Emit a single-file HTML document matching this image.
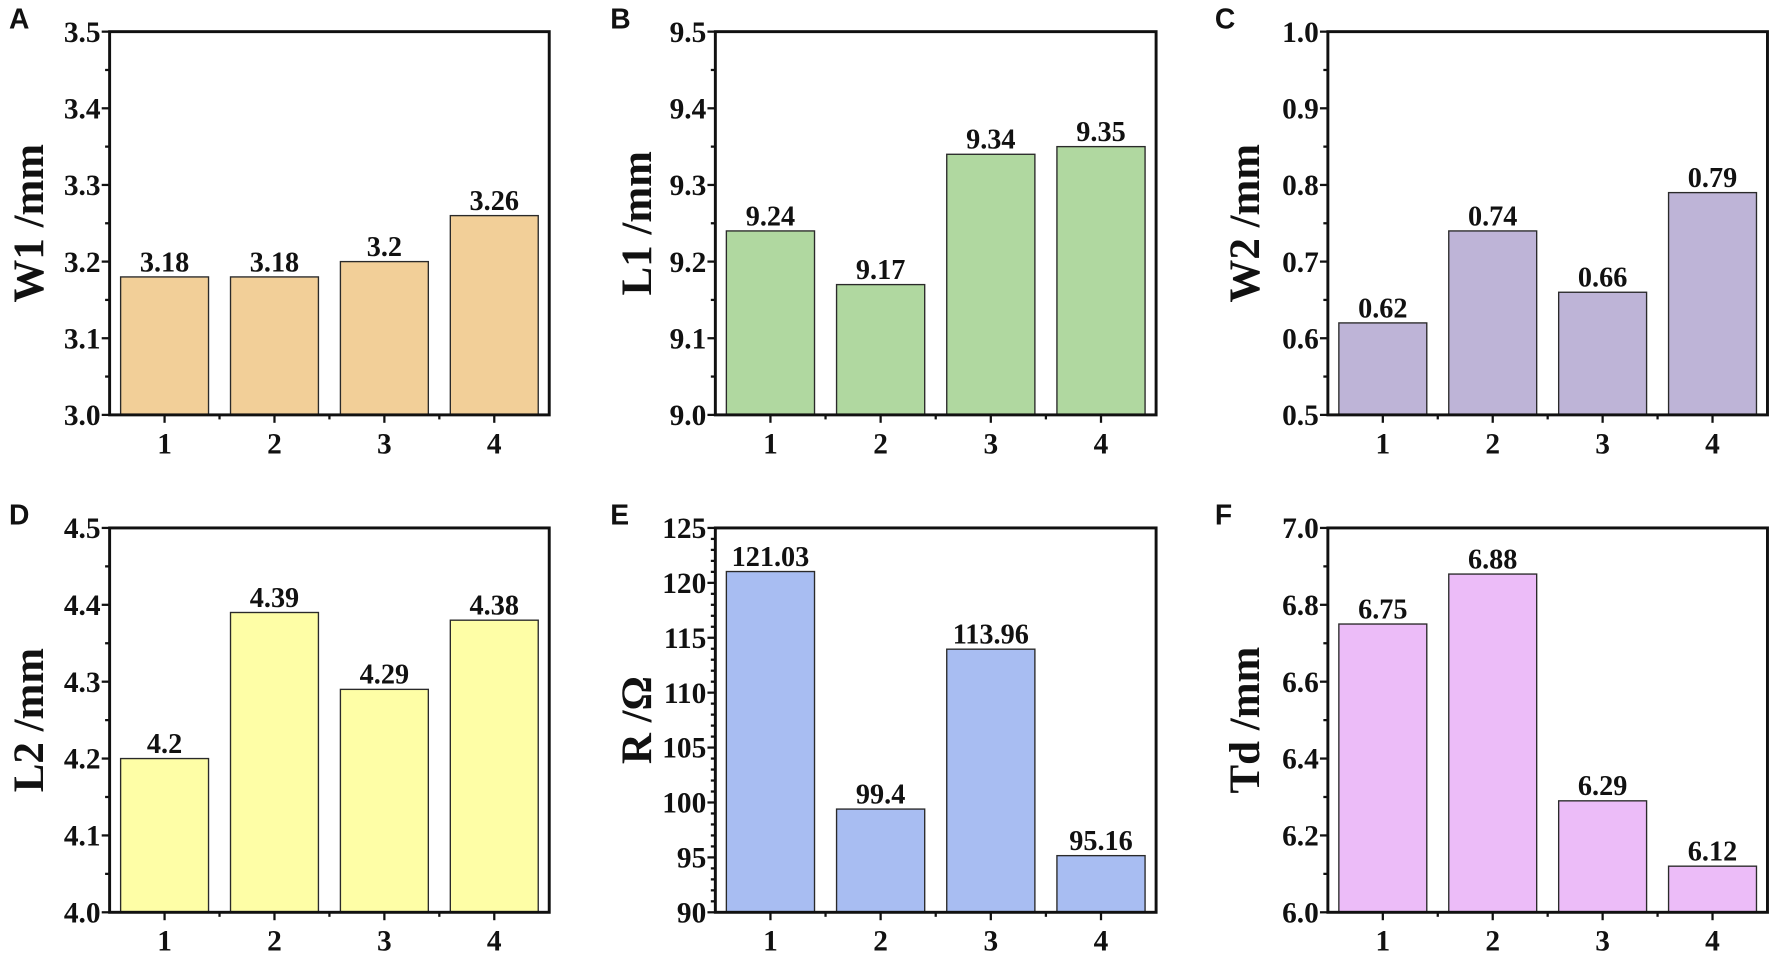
<!DOCTYPE html>
<html><head><meta charset="utf-8">
<style>
html,body{margin:0;padding:0;background:#fff;}
svg{display:block;}
.tk{font-family:"Liberation Serif",serif;font-weight:bold;font-size:26px;fill:#111;}
.vl{font-family:"Liberation Serif",serif;font-weight:bold;font-size:25px;fill:#111;}
.yt{font-family:"Liberation Serif",serif;font-weight:bold;font-size:38px;fill:#111;}
.pl{font-family:"Liberation Sans",sans-serif;font-weight:bold;font-size:25px;fill:#111;}
</style></head>
<body>
<svg id="fig" width="1772" height="953" viewBox="0 0 1568 843" preserveAspectRatio="none" xmlns="http://www.w3.org/2000/svg"></svg>
<script>
const categories = ["1","2","3","4"];
const seriesA = [3.18, 3.18, 3.2, 3.26];
const seriesB = [9.24, 9.17, 9.34, 9.35];
const seriesC = [0.62, 0.74, 0.66, 0.79];
const seriesD = [4.2, 4.39, 4.29, 4.38];
const seriesE = [121.03, 99.4, 113.96, 95.16];
const seriesF = [6.75, 6.88, 6.29, 6.12];
const labelsA = ["3.18","3.18","3.2","3.26"];
const labelsB = ["9.24","9.17","9.34","9.35"];
const labelsC = ["0.62","0.74","0.66","0.79"];
const labelsD = ["4.2","4.39","4.29","4.38"];
const labelsE = ["121.03","99.4","113.96","95.16"];
const labelsF = ["6.75","6.88","6.29","6.12"];
const ticksA = ["3.0","3.1","3.2","3.3","3.4","3.5"];
const ticksB = ["9.0","9.1","9.2","9.3","9.4","9.5"];
const ticksC = ["0.5","0.6","0.7","0.8","0.9","1.0"];
const ticksD = ["4.0","4.1","4.2","4.3","4.4","4.5"];
const ticksE = ["90","95","100","105","110","115","120","125"];
const ticksF = ["6.0","6.2","6.4","6.6","6.8","7.0"];

const NS="http://www.w3.org/2000/svg";
const svg=document.getElementById('fig');
function mk(tag,attrs,parent){const e=document.createElementNS(NS,tag);for(const k in attrs)e.setAttribute(k,attrs[k]);(parent||svg).appendChild(e);return e;}

function panel(cfg){
  const g=mk('g',{});
  
  
  const L=cfg.x0,R=cfg.x1,T=cfg.y0,B=cfg.y1;
  const lo=parseFloat(cfg.ticks[0]),hi=parseFloat(cfg.ticks[cfg.ticks.length-1]);
  const ys=v=>B-(v-lo)/(hi-lo)*(B-T);
  const step=(R-L)/categories.length;
  const xs=i=>L+step*(i+0.5);
  const pl=mk('text',{x:cfg.lx,y:T-3,class:'pl'},g);pl.textContent=cfg.letter;
  
  
  cfg.values.forEach((v,i)=>{
    const bw=step*0.8;
    const r=mk('rect',{x:xs(i)-bw/2,y:ys(v),width:bw,height:B-ys(v),fill:cfg.color,stroke:'#2a2a2a','stroke-width':1.2},g);
    
    
    const t=mk('text',{x:xs(i),y:ys(v)-5,class:'vl','text-anchor':'middle'},g);t.textContent=cfg.labels[i];
    
    
  });
  const nT=cfg.ticks.length;
  for(let k=0;k<nT;k++){
    const v=parseFloat(cfg.ticks[k]);const y=ys(v);
    mk('line',{x1:L-7,x2:L,y1:y,y2:y,stroke:'#111','stroke-width':2},g);
    const t=mk('text',{x:L-8,y:y+9,class:'tk','text-anchor':'end'},g);t.textContent=cfg.ticks[k];
    
    
    if(k<nT-1){
      const v2=parseFloat(cfg.ticks[k+1]);
      for(let m=1;m<cfg.minor;m++){const ym=ys(v+(v2-v)*m/cfg.minor);mk('line',{x1:L-4,x2:L,y1:ym,y2:ym,stroke:'#111','stroke-width':2},g);}
    }
  }
  categories.forEach((c,i)=>{
    mk('line',{x1:xs(i),x2:xs(i),y1:B,y2:B+7,stroke:'#111','stroke-width':2},g);
    if(i>0)mk('line',{x1:L+step*i,x2:L+step*i,y1:B,y2:B+4,stroke:'#111','stroke-width':2},g);
    const t=mk('text',{x:xs(i),y:B+34,class:'tk','text-anchor':'middle'},g);t.textContent=c;
    
    
  });
  const f=mk('rect',{x:L,y:T,width:R-L,height:B-T,fill:'none',stroke:'#111','stroke-width':2.6},g);
  
  
  const yt=mk('text',{x:0,y:0,class:'yt','text-anchor':'middle',transform:`translate(${cfg.tx},${(T+B)/2}) rotate(-90)`},g);
  yt.textContent=cfg.title;
  
  
}
const cols=[[97,486,8,38],[633,1023,540,576],[1175,1564,1075,1114]];
const rows=[[28,367],[467,807]];
panel({letter:'A',x0:cols[0][0],x1:cols[0][1],lx:cols[0][2],tx:cols[0][3],y0:rows[0][0],y1:rows[0][1],values:seriesA,labels:labelsA,ticks:ticksA,minor:2,color:'#f2cf98',title:'W1 /mm'});
panel({letter:'B',x0:cols[1][0],x1:cols[1][1],lx:cols[1][2],tx:cols[1][3],y0:rows[0][0],y1:rows[0][1],values:seriesB,labels:labelsB,ticks:ticksB,minor:2,color:'#b0d8a0',title:'L1 /mm'});
panel({letter:'C',x0:cols[2][0],x1:cols[2][1],lx:cols[2][2],tx:cols[2][3],y0:rows[0][0],y1:rows[0][1],values:seriesC,labels:labelsC,ticks:ticksC,minor:2,color:'#beb4d7',title:'W2 /mm'});
panel({letter:'D',x0:cols[0][0],x1:cols[0][1],lx:cols[0][2],tx:cols[0][3],y0:rows[1][0],y1:rows[1][1],values:seriesD,labels:labelsD,ticks:ticksD,minor:2,color:'#fefea6',title:'L2 /mm'});
panel({letter:'E',x0:cols[1][0],x1:cols[1][1],lx:cols[1][2],tx:cols[1][3],y0:rows[1][0],y1:rows[1][1],values:seriesE,labels:labelsE,ticks:ticksE,minor:5,color:'#a8bdf2',title:'R /Ω'});
panel({letter:'F',x0:cols[2][0],x1:cols[2][1],lx:cols[2][2],tx:cols[2][3],y0:rows[1][0],y1:rows[1][1],values:seriesF,labels:labelsF,ticks:ticksF,minor:2,color:'#ecbcf8',title:'Td /mm'});
</script>
</body></html>
